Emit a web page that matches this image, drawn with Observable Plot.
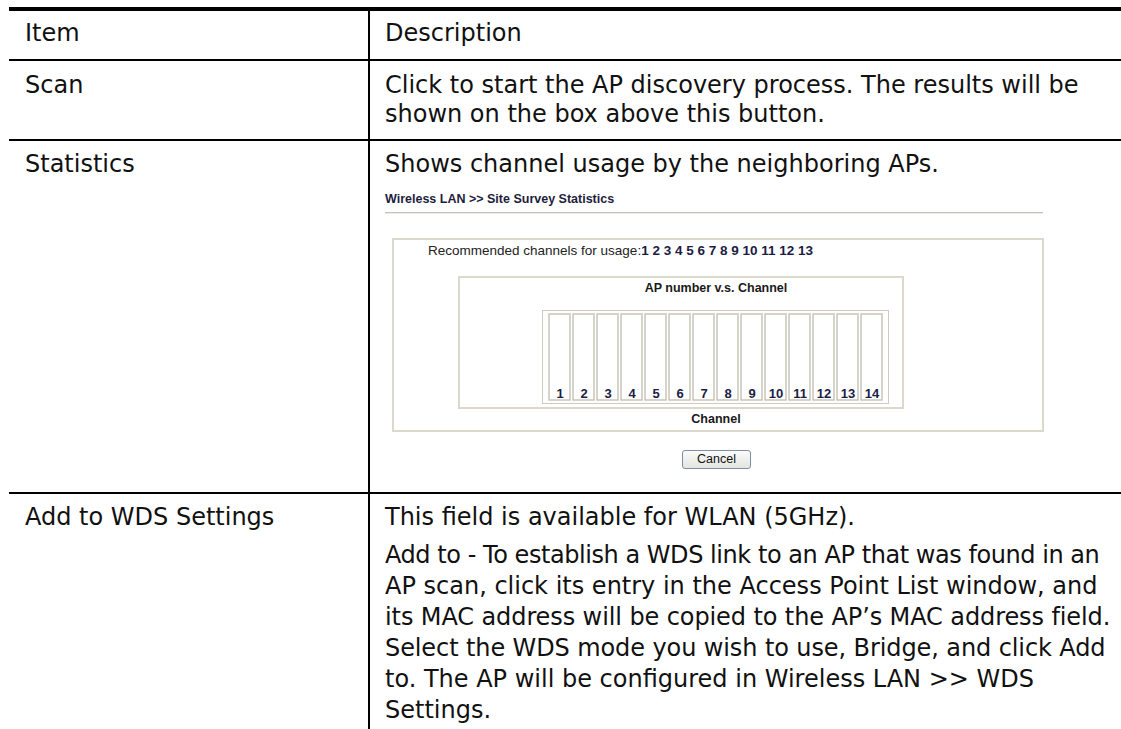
<!DOCTYPE html>
<html><head><meta charset="utf-8">
<script src="https://cdn.jsdelivr.net/npm/d3@7"></script>
<script src="https://cdn.jsdelivr.net/npm/@observablehq/plot@0.6"></script>
<style>
body{margin:0;background:#fff;width:1121px;height:729px;overflow:hidden;position:relative;font-family:"DejaVu Sans",sans-serif;}
.a{position:absolute;white-space:nowrap;}
.t{font-size:24px;line-height:30px;color:#111;}
.ln{position:absolute;background:#000;}
.s{font-family:"Liberation Sans",Arial,sans-serif;font-size:12.5px;line-height:14px;color:#222;}
.box{position:absolute;border:2px solid #dcd8cc;box-sizing:border-box;}
</style></head><body>
<div class="ln" style="left:9px;top:7px;width:1112px;height:4px"></div>
<div class="ln" style="left:9px;top:59px;width:1112px;height:2px"></div>
<div class="ln" style="left:9px;top:139px;width:1112px;height:2px"></div>
<div class="ln" style="left:9px;top:492px;width:1112px;height:2px"></div>
<div class="ln" style="left:368px;top:7px;width:2px;height:722px"></div>

<div class="a t" style="left:25px;top:18px">Item</div>
<div class="a t" style="left:385px;top:18px">Description</div>
<div class="a t" style="left:25px;top:70px">Scan</div>
<div class="a t" style="left:385px;top:70px">Click to start the AP discovery process. The results will be</div>
<div class="a t" style="left:385px;top:99px">shown on the box above this button.</div>
<div class="a t" style="left:25px;top:149px">Statistics</div>
<div class="a t" style="left:385px;top:149px">Shows channel usage by the neighboring APs.</div>
<div class="a t" style="left:25px;top:502px">Add to WDS Settings</div>
<div class="a t" style="left:385px;top:502px">This field is available for WLAN (5GHz).</div>
<div class="a t" style="left:385px;top:540px;letter-spacing:-0.45px">Add to - To establish a WDS link to an AP that was found in an</div>
<div class="a t" style="left:385px;top:571px">AP scan, click its entry in the Access Point List window, and</div>
<div class="a t" style="left:385px;top:602px;letter-spacing:-0.1px">its MAC address will be copied to the AP’s MAC address field.</div>
<div class="a t" style="left:385px;top:633px;letter-spacing:-0.1px">Select the WDS mode you wish to use, Bridge, and click Add</div>
<div class="a t" style="left:385px;top:664px">to. The AP will be configured in Wireless LAN &gt;&gt; WDS</div>
<div class="a t" style="left:385px;top:695px">Settings.</div>

<div class="a s" style="left:385px;top:192px;font-weight:bold;color:#1e1e3c">Wireless LAN &gt;&gt; Site Survey Statistics</div>
<div class="a" style="left:385px;top:212px;width:658px;height:1px;background:#c4c2bc;border-bottom:1px solid #ecebe6"></div>
<div class="box" style="left:392px;top:238px;width:652px;height:194px"></div>
<div class="a s" id="rec" style="left:428px;top:244px;font-size:13.5px"></div>
<div class="box" style="left:458px;top:276px;width:446px;height:133px"></div>
<div class="a s" style="left:616px;top:281px;width:200px;text-align:center;font-weight:bold;color:#1a1a1a">AP number v.s. Channel</div>
<div id="chart" style="position:absolute;left:542px;top:310px;border:1px solid #cfcbc0;line-height:0"></div>
<div class="a s" style="left:616px;top:412px;width:200px;text-align:center;font-weight:bold;color:#1a1a1a">Channel</div>
<div class="a s" style="left:682px;top:450px;width:69px;height:19px;box-sizing:border-box;border:1px solid #7f8ea4;border-radius:3px;background:linear-gradient(#fbfbfb,#e4e4e0);text-align:center;line-height:17px;color:#111">Cancel</div>

<script>
const channels = [1,2,3,4,5,6,7,8,9,10,11,12,13,14];
const apCount = [0,0,0,0,0,0,0,0,0,0,0,0,0,0];
const recommended = [1,2,3,4,5,6,7,8,9,10,11,12,13];

document.getElementById("rec").innerHTML =
  "Recommended channels for usage:<b style='color:#1c1c44'>" + recommended.join(" ") + "</b>";

const data = channels.map((c, i) => ({channel: c, count: apCount[i]}));
const chart = Plot.plot({
  width: 345, height: 92,
  marginTop: 3, marginBottom: 3, marginLeft: 5, marginRight: 5,
  x: {type: "band", domain: channels, padding: 0.12, paddingOuter: 0, axis: null},
  y: {domain: [0, 10], axis: null},
  style: {background: "transparent", overflow: "visible"},
  marks: [
    Plot.cell(data, {x: "channel", fill: "#fff", stroke: "#c9c5ba", strokeWidth: 1.5}),
    Plot.barY(data, {x: "channel", y: "count", fill: "#6b8fd6"}),
    Plot.text(data, {x: "channel", text: d => String(d.channel), frameAnchor: "bottom", lineAnchor: "bottom", dy: -3,
      fontSize: 13, fontWeight: "bold", fill: "#1c1c44", fontFamily: "Liberation Sans, Arial, sans-serif"})
  ]
});
document.getElementById("chart").appendChild(chart);
</script>
</body></html>
